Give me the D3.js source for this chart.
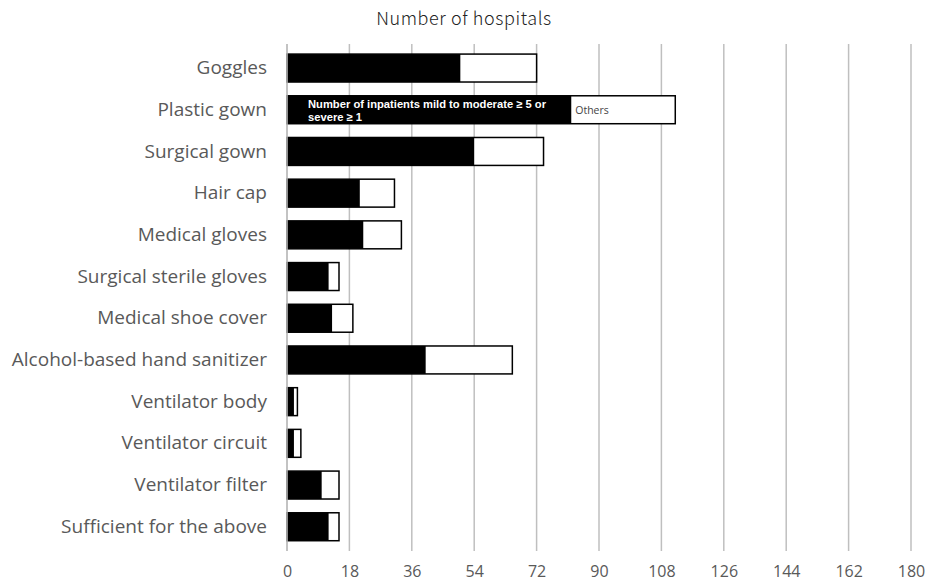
<!DOCTYPE html>
<html>
<head>
<meta charset="utf-8">
<script src="https://cdn.jsdelivr.net/npm/d3@7"></script>
<style>
  html, body { margin: 0; padding: 0; background: #fff; }
  svg { display: block; }
</style>
</head>
<body>
<svg id="chart" width="930" height="582"></svg>
<script>
// Supplies in short supply, by hospital group
const categories = [
  "Goggles", "Plastic gown", "Surgical gown", "Hair cap", "Medical gloves",
  "Surgical sterile gloves", "Medical shoe cover", "Alcohol-based hand sanitizer",
  "Ventilator body", "Ventilator circuit", "Ventilator filter", "Sufficient for the above"
];
// Hospitals with inpatients mild to moderate >= 5 or severe >= 1
const severeGroup = [50, 82, 54, 21, 22, 12, 13, 40, 2, 2, 10, 12];
// Other hospitals
const others = [22, 30, 20, 10, 11, 3, 6, 25, 1, 2, 5, 3];
const xTicks = [0, 18, 36, 54, 72, 90, 108, 126, 144, 162, 180];

const svg = d3.select("#chart");
const x = d3.scaleLinear().domain([0, 180]).range([287, 911]);
const y = d3.scaleBand().domain(categories).range([47.2, 547.6])
  .paddingInner(0.33).paddingOuter(0.165);

// Title
svg.append("text")
  .attr("x", 464).attr("y", 25)
  .attr("text-anchor", "middle")
  .attr("font-family", "'Noto Sans CJK JP', 'Noto Sans', sans-serif")
  .attr("font-weight", 300)
  .attr("font-size", 18)
  .attr("letter-spacing", 0.6)
  .attr("fill", "#222")
  .text("Number of hospitals");

// Vertical gridlines
svg.append("g").selectAll("line").data(xTicks).join("line")
  .attr("x1", d => x(d)).attr("x2", d => x(d))
  .attr("y1", 44).attr("y2", 551)
  .attr("stroke", "#bfbfbf").attr("stroke-width", 1.5);

// Bottom axis labels
const xAxis = d3.axisBottom(x).tickValues(xTicks).tickSize(0).tickPadding(0);
const gx = svg.append("g").attr("transform", "translate(0,566)").call(xAxis);
gx.select(".domain").remove();
gx.selectAll("text")
  .attr("font-family", "'Open Sans', Lato, sans-serif")
  .attr("font-size", 16)
  .attr("fill", "#595959");

// Category labels
const yAxis = d3.axisLeft(y).tickSize(0).tickPadding(20);
const gy = svg.append("g").attr("transform", "translate(287,0)").call(yAxis);
gy.select(".domain").remove();
gy.selectAll("text")
  .attr("font-family", "'Open Sans', Lato, sans-serif")
  .attr("font-size", 19)
  .attr("fill", "#595959");

// Stacked bars
const bars = svg.append("g");
bars.selectAll("rect.others").data(categories).join("rect")
  .attr("class", "others")
  .attr("x", x(0))
  .attr("y", d => y(d))
  .attr("width", (d, i) => x(severeGroup[i] + others[i]) - x(0))
  .attr("height", y.bandwidth())
  .attr("fill", "#fff")
  .attr("stroke", "#000")
  .attr("stroke-width", 1.5);
bars.selectAll("rect.severe").data(categories).join("rect")
  .attr("class", "severe")
  .attr("x", x(0))
  .attr("y", d => y(d))
  .attr("width", (d, i) => x(severeGroup[i]) - x(0))
  .attr("height", y.bandwidth())
  .attr("fill", "#000");

// Series labels inside the Plastic gown bar
const pg = y("Plastic gown");
const lab = svg.append("text")
  .attr("font-family", "'Liberation Sans', Arial, sans-serif")
  .attr("font-weight", "bold")
  .attr("font-size", 11.2)
  .attr("fill", "#fff");
lab.append("tspan").attr("x", 308).attr("y", pg + 12)
  .text("Number of inpatients mild to moderate \u2265 5 or");
lab.append("tspan").attr("x", 308).attr("y", pg + 25)
  .text("severe \u2265 1");
svg.append("text")
  .attr("x", x(severeGroup[1]) + 4).attr("y", pg + 18)
  .attr("font-family", "'Open Sans', Lato, sans-serif")
  .attr("font-size", 10.5)
  .attr("fill", "#444")
  .text("Others");

// Vertical baseline
svg.append("line")
  .attr("x1", x(0)).attr("x2", x(0)).attr("y1", 44).attr("y2", 551)
  .attr("stroke", "#bfbfbf").attr("stroke-width", 1.5);
</script>
</body>
</html>
